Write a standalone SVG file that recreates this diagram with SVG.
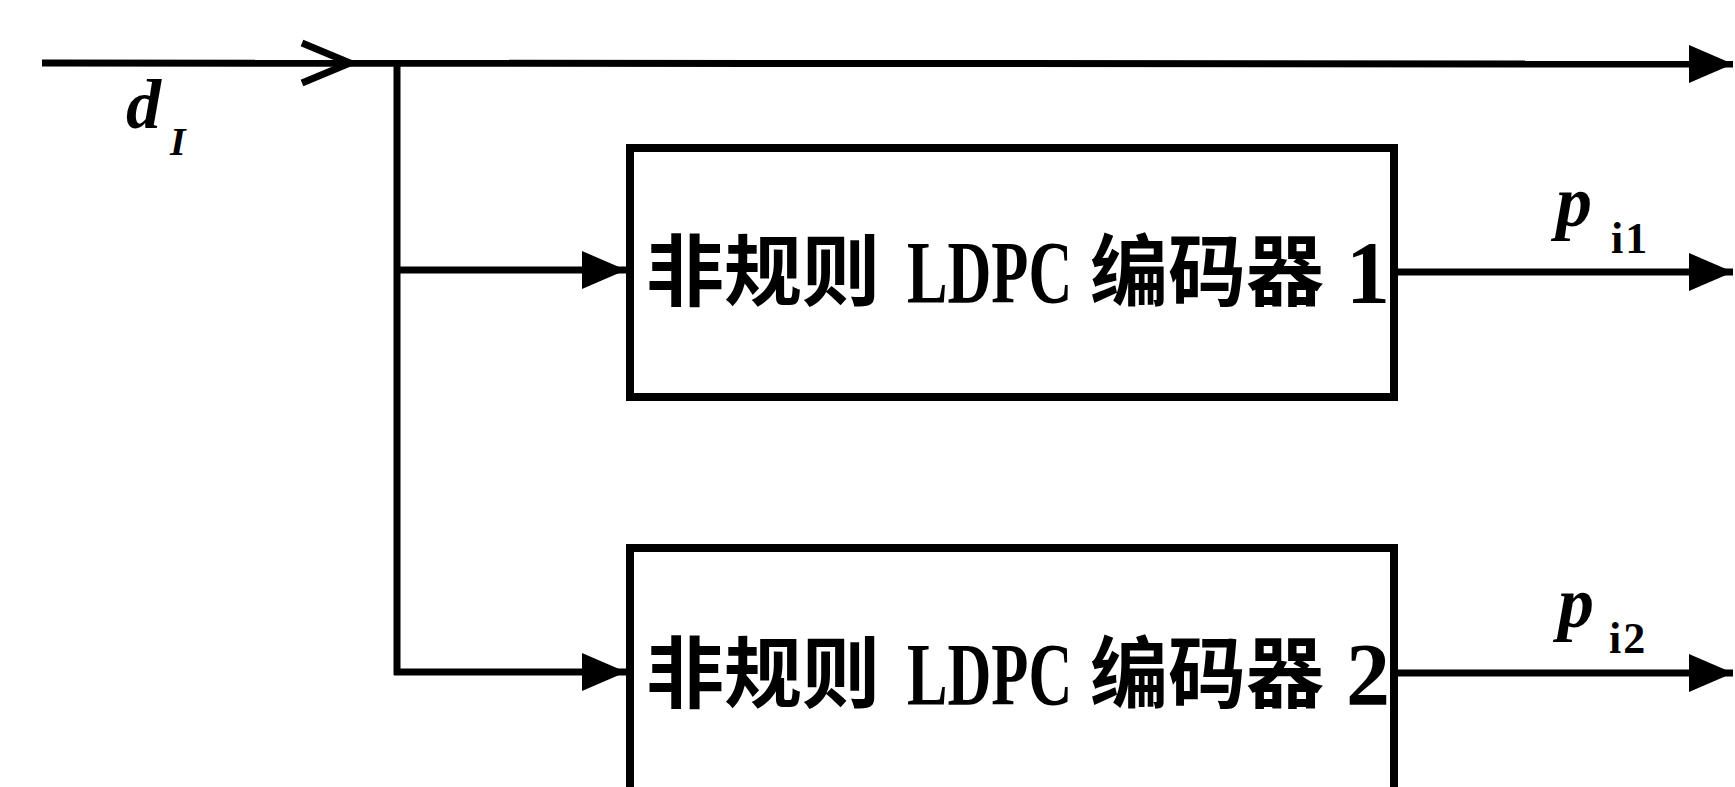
<svg xmlns="http://www.w3.org/2000/svg" width="1735" height="787" viewBox="0 0 1735 787">
<style>
.ln{stroke:#000;stroke-width:7;fill:none;stroke-linecap:butt}
.box{stroke:#000;stroke-width:8;fill:#fff}
.cjk{font-family:"Noto Sans CJK SC",sans-serif;font-weight:bold;font-size:78px;fill:#000}
.lat{font-family:"Liberation Serif",serif;font-weight:bold;font-size:88px;fill:#000}
.var{font-family:"Liberation Serif",serif;font-weight:bold;font-style:italic;fill:#000}
.sub{font-family:"Liberation Serif",serif;font-weight:bold;fill:#000}
</style>
<defs>
<marker id="ah" markerUnits="userSpaceOnUse" markerWidth="46" markerHeight="38" refX="44" refY="19" orient="auto">
<path d="M0,0 L44,19 L0,38 Z" fill="#000"/>
</marker>
</defs>
<rect width="1735" height="787" fill="#fff"/>
<g id="connectors">
<line class="ln" x1="42" y1="63" x2="1733" y2="64" marker-end="url(#ah)"/>
<polyline class="ln" points="302,43 350,63 302,83" stroke-width="9"/>
<line class="ln" x1="397" y1="60" x2="397" y2="675"/>
<line class="ln" x1="394" y1="270" x2="626" y2="270" marker-end="url(#ah)"/>
<line class="ln" x1="394" y1="672" x2="626" y2="672" marker-end="url(#ah)"/>
<line class="ln" x1="1395" y1="272" x2="1733" y2="272" marker-end="url(#ah)"/>
<line class="ln" x1="1395" y1="673" x2="1733" y2="673" marker-end="url(#ah)"/>
</g>
<g id="label-d">
<text class="var" x="126" y="128" font-size="70">d</text>
<text class="var" x="170" y="155" font-size="40">I</text>
</g>
<g id="encoder1">
<rect class="box" x="630" y="148" width="764" height="249"/>
<text class="cjk" x="646" y="300">非规则</text>
<text class="lat" transform="translate(907,302) scale(0.69,1)">LDPC</text>
<text class="cjk" x="1090" y="300">编码器</text>
<text class="lat" x="1346" y="302">1</text>
</g>
<g id="encoder2">
<rect class="box" x="630" y="548" width="764" height="260"/>
<text class="cjk" x="646" y="702">非规则</text>
<text class="lat" transform="translate(907,704) scale(0.69,1)">LDPC</text>
<text class="cjk" x="1090" y="702">编码器</text>
<text class="lat" x="1346" y="704">2</text>
</g>
<g id="label-p1">
<text class="var" x="1556" y="226" font-size="72">p</text>
<text class="sub" x="1611" y="253" font-size="44" letter-spacing="2">i1</text>
</g>
<g id="label-p2">
<text class="var" x="1558" y="627" font-size="72">p</text>
<text class="sub" x="1609" y="653" font-size="44" letter-spacing="2">i2</text>
</g>
</svg>
